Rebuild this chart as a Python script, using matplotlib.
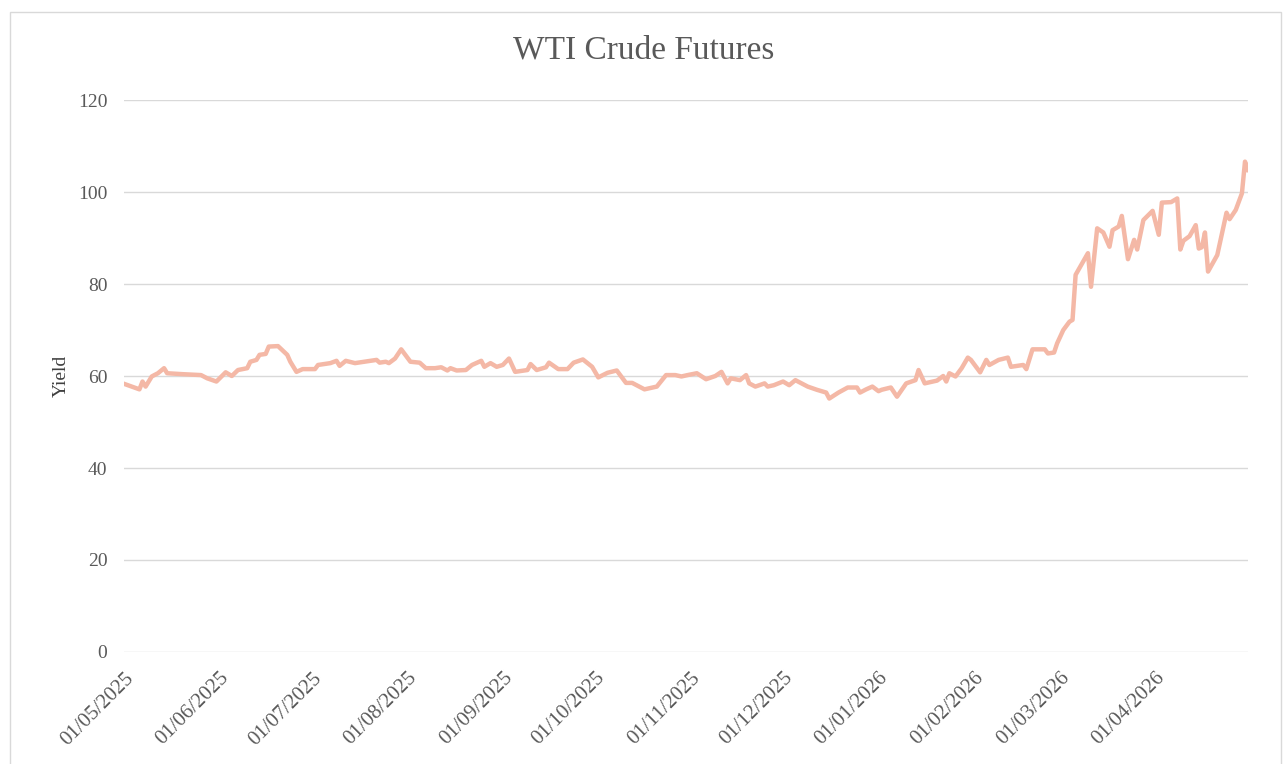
import pandas as pd
import matplotlib.pyplot as plt
import matplotlib.dates as mdates
from matplotlib.patches import Rectangle

# values
dates = [
    "2025-05-01", "2025-05-06", "2025-05-07", "2025-05-08", "2025-05-10", "2025-05-12",
    "2025-05-14", "2025-05-15", "2025-05-20", "2025-05-26", "2025-05-28", "2025-05-31",
    "2025-06-03", "2025-06-05", "2025-06-07", "2025-06-10", "2025-06-11", "2025-06-13",
    "2025-06-14", "2025-06-16", "2025-06-17", "2025-06-20", "2025-06-23", "2025-06-24",
    "2025-06-26", "2025-06-28", "2025-07-02", "2025-07-03", "2025-07-07", "2025-07-09",
    "2025-07-10", "2025-07-12", "2025-07-15", "2025-07-18", "2025-07-22", "2025-07-23",
    "2025-07-25", "2025-07-26", "2025-07-28", "2025-07-30", "2025-07-31", "2025-08-02",
    "2025-08-05", "2025-08-07", "2025-08-10", "2025-08-12", "2025-08-14", "2025-08-15",
    "2025-08-17", "2025-08-20", "2025-08-22", "2025-08-25", "2025-08-26", "2025-08-28",
    "2025-08-30", "2025-09-01", "2025-09-03", "2025-09-05", "2025-09-09", "2025-09-10",
    "2025-09-12", "2025-09-15", "2025-09-16", "2025-09-19", "2025-09-22", "2025-09-24",
    "2025-09-27", "2025-09-30", "2025-10-02", "2025-10-05", "2025-10-08", "2025-10-11",
    "2025-10-13", "2025-10-17", "2025-10-21", "2025-10-24", "2025-10-27", "2025-10-29",
    "2025-10-31", "2025-11-03", "2025-11-06", "2025-11-09", "2025-11-11", "2025-11-13",
    "2025-11-14", "2025-11-17", "2025-11-19", "2025-11-20", "2025-11-22", "2025-11-25",
    "2025-11-26", "2025-11-28", "2025-12-01", "2025-12-03", "2025-12-05", "2025-12-09",
    "2025-12-12", "2025-12-15", "2025-12-16", "2025-12-19", "2025-12-22", "2025-12-25",
    "2025-12-26", "2025-12-28", "2025-12-30", "2026-01-01", "2026-01-02", "2026-01-05",
    "2026-01-07", "2026-01-10", "2026-01-13", "2026-01-14", "2026-01-16", "2026-01-20",
    "2026-01-22", "2026-01-23", "2026-01-24", "2026-01-26", "2026-01-28", "2026-01-30",
    "2026-01-31", "2026-02-03", "2026-02-05", "2026-02-06", "2026-02-09", "2026-02-12",
    "2026-02-13", "2026-02-17", "2026-02-18", "2026-02-20", "2026-02-24", "2026-02-25",
    "2026-02-27", "2026-02-28", "2026-03-02", "2026-03-04", "2026-03-05", "2026-03-06",
    "2026-03-10", "2026-03-11", "2026-03-13", "2026-03-15", "2026-03-17", "2026-03-18",
    "2026-03-20", "2026-03-21", "2026-03-23", "2026-03-25", "2026-03-26", "2026-03-28",
    "2026-03-31", "2026-04-02", "2026-04-03", "2026-04-06", "2026-04-08", "2026-04-09",
    "2026-04-10", "2026-04-12", "2026-04-14", "2026-04-15", "2026-04-16", "2026-04-17",
    "2026-04-18", "2026-04-21", "2026-04-24", "2026-04-25", "2026-04-27", "2026-04-29",
    "2026-04-30", "2026-05-01",
]
prices = [
    58.3, 57.1, 58.8, 57.7, 59.9, 60.6,
    61.7, 60.6, 60.4, 60.2, 59.5, 58.8,
    60.8, 60.0, 61.3, 61.7, 63.1, 63.5,
    64.6, 64.8, 66.4, 66.5, 64.6, 63.1,
    60.9, 61.5, 61.5, 62.4, 62.8, 63.3,
    62.2, 63.3, 62.8, 63.1, 63.5, 62.9,
    63.1, 62.8, 63.8, 65.8, 64.9, 63.1,
    62.9, 61.7, 61.7, 61.9, 61.2, 61.7,
    61.2, 61.3, 62.4, 63.3, 62.0, 62.8,
    62.0, 62.4, 63.8, 60.9, 61.3, 62.6,
    61.3, 61.9, 62.9, 61.5, 61.5, 62.9,
    63.6, 62.0, 59.7, 60.7, 61.2, 58.5,
    58.5, 57.1, 57.7, 60.2, 60.2, 59.9,
    60.2, 60.6, 59.3, 60.0, 60.9, 58.4,
    59.5, 59.1, 60.2, 58.4, 57.7, 58.4,
    57.7, 58.0, 58.8, 58.0, 59.1, 57.7,
    57.0, 56.4, 55.1, 56.4, 57.5, 57.5,
    56.4, 57.1, 57.7, 56.7, 57.0, 57.5,
    55.5, 58.4, 59.1, 61.3, 58.4, 59.0,
    60.0, 58.8, 60.6, 59.9, 61.7, 64.0,
    63.5, 60.8, 63.5, 62.4, 63.5, 64.0,
    62.0, 62.4, 61.5, 65.8, 65.8, 64.9,
    65.1, 67.1, 70.0, 71.8, 72.2, 82.0,
    86.7, 79.4, 92.1, 91.2, 88.1, 91.7,
    92.5, 94.8, 85.4, 89.6, 87.5, 93.9,
    95.9, 90.7, 97.7, 97.8, 98.6, 87.5,
    89.4, 90.4, 92.8, 87.7, 88.0, 91.2,
    82.7, 86.3, 95.5, 94.1, 96.1, 99.7,
    106.6, 104.8,
]
y_ticks = [0, 20, 40, 60, 80, 100, 120]
x_ticks = pd.date_range("2025-05-01", "2026-04-01", freq="MS")

dates = pd.to_datetime(dates)
serif = ["Liberation Serif", "DejaVu Serif"]

fig = plt.figure(figsize=(12.88, 7.64), dpi=100)
ax = fig.add_axes([0.0963, 0.1466, 0.8727, 0.7225])

ax.plot(dates, prices, color="#F4B8A6", lw=3.2, solid_joinstyle="round")

ax.set_ylim(0, 120)
ax.set_yticks(y_ticks)
ax.set_xlim(dates[0], dates[-1])
ax.set_xticks(x_ticks)
ax.xaxis.set_major_formatter(mdates.DateFormatter("%d/%m/%Y"))
ax.grid(axis="y", color="#D9D9D9", lw=1)
ax.set_axisbelow(True)
for s in ax.spines.values():
    s.set_visible(False)
ax.tick_params(length=0, colors="#595959")
ax.tick_params(axis="y", pad=12, labelsize=14)
ax.tick_params(axis="x", pad=12, labelsize=15)
for lab in ax.get_xticklabels():
    lab.set_rotation(45)
    lab.set_ha("right")
    lab.set_rotation_mode("anchor")
    lab.set_family(serif)
for lab in ax.get_yticklabels():
    lab.set_family(serif)

ax.set_ylabel("Yield", family=serif, fontsize=14, color="#404040", labelpad=6)
fig.suptitle("WTI Crude Futures", family=serif, fontsize=24, color="#595959",
             y=0.934, va="center")

# chart area border
fig.patches.append(Rectangle((10 / 1288, -0.1), 1271 / 1288, 1.1 - 12 / 764,
                             transform=fig.transFigure, fill=False,
                             edgecolor="#D9D9D9", lw=1))

fig.savefig("out.png", dpi=100)
